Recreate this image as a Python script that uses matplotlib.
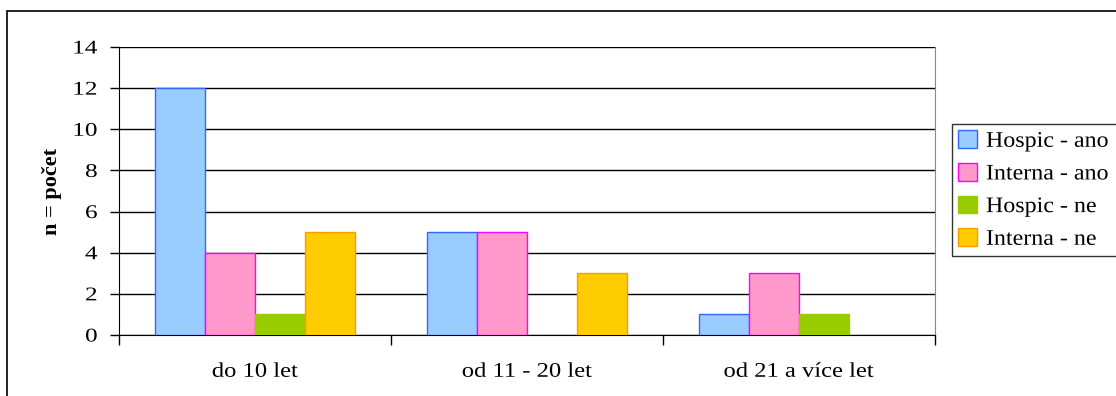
import matplotlib
matplotlib.use("Agg")
import matplotlib.pyplot as plt
from matplotlib.patches import Rectangle
from matplotlib.patheffects import AbstractPathEffect
from matplotlib.transforms import Affine2D
import numpy as np

plt.rcParams['font.family'] = ['Liberation Serif', 'DejaVu Serif']

categories = ["do 10 let", "od 11 - 20 let", "od 21 a více let"]
series_names = ["Hospic - ano", "Interna - ano", "Hospic - ne", "Interna - ne"]
hospic_ano = [12, 5, 1]
interna_ano = [4, 5, 3]
hospic_ne = [1, 0, 1]
interna_ne = [5, 3, 0]
yticks = [0, 2, 4, 6, 8, 10, 12, 14]

fills = ["#99CCFF", "#FF99CC", "#99CC00", "#FFCC00"]
edges = ["#3366FF", "#FF00FF", "#99CC00", "#FF9900"]


class StretchX(AbstractPathEffect):
    """Widen glyphs horizontally about the left, centre or right of the string."""

    def __init__(self, sx, anchor="center"):
        super().__init__()
        self.sx = sx
        self.anchor = anchor

    def draw_path(self, renderer, gc, tpath, affine, rgbFace=None):
        ext = tpath.get_extents()
        if self.anchor == "center":
            cx = (ext.x0 + ext.x1) / 2
        elif self.anchor == "right":
            cx = ext.x1
        else:
            cx = ext.x0
        t = Affine2D().translate(-cx, 0).scale(self.sx, 1).translate(cx, 0) + affine
        renderer.draw_path(gc, tpath, t, rgbFace)


W, H = 1116, 396
fig = plt.figure(figsize=(W / 100, H / 100), dpi=100)

# outer chart frame
fig.patches.append(Rectangle((7 / W, -0.1), 1.2, 1 - 11 / H + 0.1,
                             transform=fig.transFigure, fill=False,
                             edgecolor="black", linewidth=1.2))

ax = fig.add_axes([119 / W, 1 - 335 / H, (935 - 119) / W, (335 - 47) / H])

x = np.arange(len(categories))
bw = 0.183
data = [hospic_ano, interna_ano, hospic_ne, interna_ne]
for i, (vals, name) in enumerate(zip(data, series_names)):
    bars = ax.bar(x + (i - 1.5) * bw, vals, bw, color=fills[i], edgecolor=edges[i],
                  linewidth=1.0, label=name, zorder=3)
    for b, v in zip(bars, vals):
        if v == 0:
            b.set_linewidth(0)

ax.set_xlim(-0.5, len(categories) - 0.5)
ax.set_ylim(0, 14)
ax.set_yticks(yticks)
ax.yaxis.grid(True, color="black", linewidth=1.0, zorder=0)
ax.set_axisbelow(True)

ax.set_xticks(x)
ax.set_xticklabels(categories, fontsize=15)
ax.tick_params(axis='x', length=0, pad=20)
ax.set_xticks(np.arange(len(categories) + 1) - 0.5, minor=True)
ax.tick_params(axis='x', which='minor', length=7, width=1, direction='out', color='black')
ax.tick_params(axis='y', labelsize=14, length=6.5, width=1, direction='out', pad=9)

for lab in ax.get_xticklabels():
    lab.set_path_effects([StretchX(1.18, "center")])
for lab in ax.get_yticklabels():
    lab.set_path_effects([StretchX(1.3, "right")])

ax.spines["top"].set_visible(False)
ax.spines["right"].set_color("#888888")
ax.spines["left"].set_color("black")
ax.spines["bottom"].set_color("black")

ax.set_ylabel("n = počet", fontsize=16, fontweight="bold")
ax.yaxis.set_label_coords(-0.07, 0.5)

leg = fig.legend(loc="upper left", bbox_to_anchor=(952 / W, 1 - 124 / H, 0.2, 0.0),
                 mode="expand",
                 bbox_transform=fig.transFigure, fontsize=16, frameon=True,
                 fancybox=False, edgecolor="black", handlelength=0.85,
                 handleheight=0.85, handletextpad=0.4, labelspacing=0.5,
                 borderpad=0.28, borderaxespad=0)
leg.get_frame().set_linewidth(1.0)
for t in leg.get_texts():
    t.set_path_effects([StretchX(1.08, "left")])

fig.savefig("out.png", dpi=100)
